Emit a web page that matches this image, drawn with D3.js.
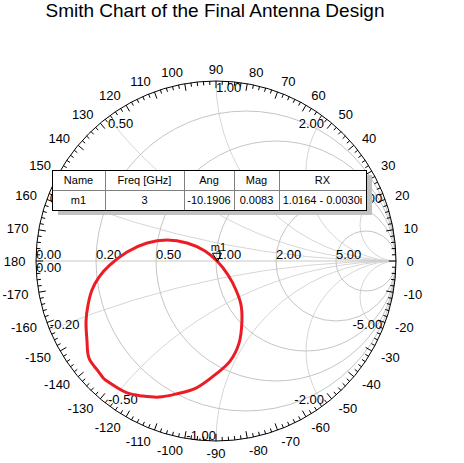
<!DOCTYPE html>
<html>
<head>
<meta charset="utf-8">
<script src="https://cdn.jsdelivr.net/npm/d3@7"></script>
<style>
  body { margin: 0; background: #fff; }
  text { font-family: Arial, "Liberation Sans", sans-serif; }
</style>
</head>
<body>
<div id="smith"></div>
<script>
// grid values of the chart
var resistances = [0.2, 0.5, 1, 2, 5];
var reactances = [0.2, 0.5, 1, 2, 5, -0.2, -0.5, -1, -2, -5];
var rLabels = ["0.20", "0.50", "1.00", "2.00", "5.00"];
var xLabels = ["0.20", "0.50", "1.00", "2.00", "5.00", "-0.20", "-0.50", "-1.00", "-2.00", "-5.00"];
var angleLabels = [0, 10, 20, 30, 40, 50, 60, 70, 80, 90, 100, 110, 120, 130, 140, 150, 160, 170, 180,
    -170, -160, -150, -140, -130, -120, -110, -100, -90, -80, -70, -60, -50, -40, -30, -20, -10];

var traceRe = [-0.622, -0.656, -0.706, -0.717, -0.722, -0.711, -0.689, -0.650, -0.589, -0.494, -0.383, -0.272,
    -0.161, -0.061, 0.006, 0.067, 0.111, 0.139, 0.144, 0.128, 0.078, 0.000, -0.111, -0.222, -0.317, -0.406,
    -0.494, -0.622];
var traceIm = [-0.656, -0.611, -0.539, -0.439, -0.333, -0.244, -0.161, -0.089, -0.022, 0.050, 0.100, 0.117,
    0.100, 0.056, 0.000, -0.078, -0.161, -0.244, -0.333, -0.456, -0.556, -0.628, -0.706, -0.739, -0.756, -0.750,
    -0.733, -0.656];

// marker table
var tableHead = ["Name", "Freq [GHz]", "Ang", "Mag", "RX"];
var tableRow = ["m1", "3", "-10.1906", "0.0083", "1.0164 - 0.0030i"];
var markerAng = -10.1906;
var markerMag = 0.0083;

var width = 464,
    height = 463,
    cx = 216,
    cy = 261,
    R = 180;

var svg = d3.select("#smith")
    .append("svg")
    .attr("width", width)
    .attr("height", height);

// scales from reflection coefficient to pixels
var x = d3.scaleLinear().domain([-1, 1]).range([cx - R, cx + R]);
var y = d3.scaleLinear().domain([-1, 1]).range([cy + R, cy - R]);
function px(len) { return x(len) - x(0); }

// title
svg.append("text")
    .attr("x", 215)
    .attr("y", 17)
    .attr("text-anchor", "middle")
    .style("font-size", "19px")
    .text("Smith Chart of the Final Antenna Design");

svg.append("clipPath").attr("id", "unit")
    .append("circle").attr("cx", x(0)).attr("cy", y(0)).attr("r", px(1));

var grid = svg.append("g").attr("clip-path", "url(#unit)");

// reactance arcs
grid.selectAll(".xarc")
    .data(reactances)
    .enter().append("circle")
    .attr("cx", x(1))
    .attr("cy", function(d) { return y(1 / d); })
    .attr("r", function(d) { return px(1 / Math.abs(d)); })
    .attr("fill", "none")
    .attr("stroke", "#d6d6d6");

// real axis
grid.append("line")
    .attr("x1", x(-1)).attr("x2", x(1))
    .attr("y1", y(0)).attr("y2", y(0))
    .attr("stroke", "#c8c8c8");

// resistance circles
grid.selectAll(".rcirc")
    .data(resistances)
    .enter().append("circle")
    .attr("cx", function(d) { return x(d / (1 + d)); })
    .attr("cy", y(0))
    .attr("r", function(d) { return px(1 / (1 + d)); })
    .attr("fill", "none")
    .attr("stroke", "#c4c4c4");

// outer circle
svg.append("circle")
    .attr("cx", x(0)).attr("cy", y(0)).attr("r", px(1))
    .attr("fill", "none")
    .attr("stroke", "#000");

// angle ticks every 2 degrees, long every 10
var tickAngles = d3.range(-178, 181, 2);
svg.selectAll(".tick")
    .data(tickAngles)
    .enter().append("line")
    .attr("x1", function(d) { return x(Math.cos(d * Math.PI / 180)); })
    .attr("y1", function(d) { return y(Math.sin(d * Math.PI / 180)); })
    .attr("x2", function(d) {
        var k = d % 10 == 0 ? 0.96 : 0.978;
        return x(k * Math.cos(d * Math.PI / 180));
    })
    .attr("y2", function(d) {
        var k = d % 10 == 0 ? 0.96 : 0.978;
        return y(k * Math.sin(d * Math.PI / 180));
    })
    .attr("stroke", "#000");

// angle labels
svg.selectAll(".alabel")
    .data(angleLabels)
    .enter().append("text")
    .attr("x", function(d) { return x(1.058 * Math.cos(d * Math.PI / 180)); })
    .attr("y", function(d) { return y(1.065 * Math.sin(d * Math.PI / 180)) + 5; })
    .attr("text-anchor", function(d) {
        if (Math.abs(d) == 90) return "middle";
        return Math.abs(d) < 90 ? "start" : "end";
    })
    .style("font-size", "13px")
    .text(function(d) { return d; });

// resistance labels on the real axis
svg.selectAll(".rlabel")
    .data(resistances)
    .enter().append("text")
    .attr("x", function(d) { return x((d - 1) / (d + 1)); })
    .attr("y", y(0) - 2)
    .style("font-size", "13px")
    .text(function(d, i) { return rLabels[i]; });

svg.append("text").attr("x", x(-1)).attr("y", y(0) - 2).style("font-size", "13px").text("0.00");
svg.append("text").attr("x", x(-1)).attr("y", y(0) + 11).style("font-size", "13px").text("0.00");

// reactance labels on the outer circle
svg.selectAll(".xlabel")
    .data(reactances)
    .enter().append("text")
    .attr("x", function(d) { return x((d * d - 1) / (d * d + 1)); })
    .attr("y", function(d) {
        var v = y(2 * d / (d * d + 1));
        return d > 0 ? v + 11 : v - 1;
    })
    .attr("text-anchor", function(d) {
        var st = d > 0 ? d <= 1 : d > -1;
        return st ? "start" : "end";
    })
    .style("font-size", "13px")
    .text(function(d, i) { return xLabels[i]; });

// S11 trace
var trace = traceRe.map(function(d, i) { return [d, traceIm[i]]; });
var line = d3.line()
    .x(function(d) { return x(d[0]); })
    .y(function(d) { return y(d[1]); })
    .curve(d3.curveCatmullRom);

svg.append("path")
    .datum(trace)
    .attr("fill", "none")
    .attr("stroke", "#ec1c24")
    .attr("stroke-width", 3)
    .attr("d", line);

// marker m1
var mRe = markerMag * Math.cos(markerAng * Math.PI / 180),
    mIm = markerMag * Math.sin(markerAng * Math.PI / 180);
var mx = x(mRe), my = y(mIm);
svg.append("path")
    .attr("d", "M" + mx + "," + my + "L" + (mx - 5) + "," + (my - 8) + "L" + (mx + 4) + "," + (my - 8) + "Z")
    .attr("fill", "none")
    .attr("stroke", "#000");
svg.append("text")
    .attr("x", mx + 1)
    .attr("y", my - 10)
    .attr("text-anchor", "middle")
    .style("font-size", "11px")
    .text(tableRow[0]);

// marker table
var colX = [52, 105, 184, 234, 279, 366],
    rowY = [170, 190, 210];
var tbl = svg.append("g");
tbl.append("rect")
    .attr("x", colX[0] + 6).attr("y", rowY[0] + 5)
    .attr("width", colX[5] - colX[0]).attr("height", rowY[2] - rowY[0])
    .attr("fill", "#c0c0c0");
tbl.append("rect")
    .attr("x", colX[0]).attr("y", rowY[0])
    .attr("width", colX[5] - colX[0]).attr("height", rowY[2] - rowY[0])
    .attr("fill", "#fff");
tbl.selectAll(".vl")
    .data(colX.slice(1, 5))
    .enter().append("line")
    .attr("x1", function(d) { return d + 0.5; }).attr("x2", function(d) { return d + 0.5; })
    .attr("y1", rowY[0]).attr("y2", rowY[2])
    .attr("stroke", "#808080");
tbl.append("line")
    .attr("x1", colX[0]).attr("x2", colX[5])
    .attr("y1", rowY[1] + 0.5).attr("y2", rowY[1] + 0.5)
    .attr("stroke", "#808080");
tbl.append("rect")
    .attr("x", colX[0] + 0.5).attr("y", rowY[0] + 0.5)
    .attr("width", colX[5] - colX[0]).attr("height", rowY[2] - rowY[0])
    .attr("fill", "none")
    .attr("stroke", "#000");
[tableHead, tableRow].forEach(function(row, r) {
    tbl.selectAll(".c" + r)
        .data(row)
        .enter().append("text")
        .attr("x", function(d, i) { return (colX[i] + colX[i + 1]) / 2; })
        .attr("y", rowY[r] + 14)
        .attr("text-anchor", "middle")
        .style("font-size", "11px")
        .text(function(d) { return d; });
});
</script>
</body>
</html>
